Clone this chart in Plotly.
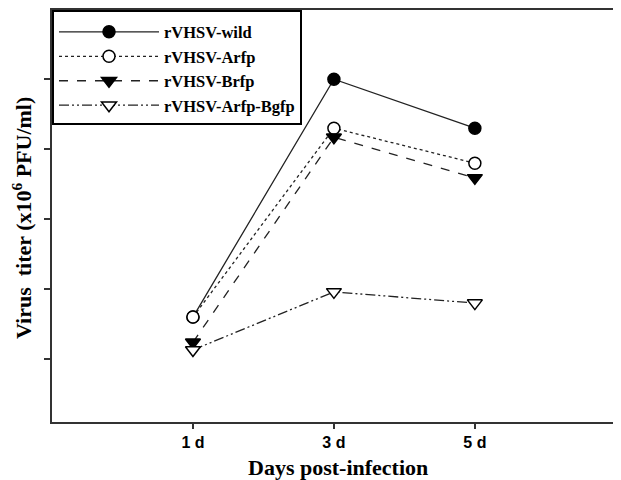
import plotly.graph_objects as go

days = [1, 3, 5]
day_labels = ["1 d", "3 d", "5 d"]
wild = [1.6, 5.0, 4.3]
arfp = [1.6, 4.3, 3.8]
brfp = [1.24, 4.17, 3.59]
arfp_bgfp = [1.13, 1.96, 1.8]
y_ticks = [1, 2, 3, 4, 5]

series = [
    ("rVHSV-wild", wild, "solid", "circle", "black"),
    ("rVHSV-Arfp", arfp, "dot", "circle", "white"),
    ("rVHSV-Brfp", brfp, "dash", "triangle-down", "black"),
    ("rVHSV-Arfp-Bgfp", arfp_bgfp, "10px,3px,2px,3px,2px,3px", "triangle-down", "white"),
]

fig = go.Figure()
for name, vals, dash, sym, fill in series:
    fig.add_trace(go.Scatter(
        x=days, y=vals, name=name, mode="lines+markers",
        line=dict(color="#222", width=1.3, dash=dash),
        marker=dict(symbol=sym, size=12 if sym == "circle" else 13, color=fill,
                    line=dict(color="black", width=1.5)),
    ))

# the page body has an 8px margin; compensate so the plot lands where the reference has it
OFF = 8
W, H = 621 - 2 * OFF, 480 - OFF
ml, mt, mb, mr = 52 - OFF, 10 - OFF, 58, 0
PH = H - mt - mb
PW = W - ml - mr
fig.update_layout(
    width=W, height=H,
    margin=dict(l=ml, r=mr, t=mt, b=mb),
    paper_bgcolor="white", plot_bgcolor="white",
    showlegend=True,
    legend=dict(
        x=0, y=1, xanchor="left", yanchor="top",
        bordercolor="black", borderwidth=2, bgcolor="white",
        font=dict(family="Liberation Serif", size=16.5, color="black", weight="bold"),
        title=dict(text=" ", font=dict(size=2)),
        tracegroupgap=0, itemwidth=100,
    ),
    xaxis=dict(
        range=[-1, 6.96], tickvals=days, ticktext=day_labels,
        showline=True, linecolor="#333", linewidth=2, mirror=True,
        ticks="outside", ticklen=5, tickwidth=1.5, tickcolor="#333",
        showgrid=False, zeroline=False,
        tickfont=dict(family="Liberation Sans", size=16, color="black", weight="bold"),
    ),
    yaxis=dict(
        range=[0.1, 5.99], tickvals=y_ticks, showticklabels=False,
        showline=True, linecolor="#333", linewidth=2,
        ticks="outside", ticklen=6, tickwidth=1.5, tickcolor="#333",
        showgrid=False, zeroline=False,
    ),
    annotations=[
        dict(text="Virus  titer (x10<sup>6</sup> PFU/ml)", xref="paper", yref="paper",
             x=(22 - 52) / PW, y=(422 - 218) / PH, xanchor="center", yanchor="middle",
             textangle=-90, showarrow=False,
             font=dict(family="Liberation Serif", size=22, color="black", weight="bold")),
        dict(text="Days post-infection", xref="paper", yref="paper",
             x=(338 - 52) / PW, y=-(467 - 422) / PH, xanchor="center", yanchor="middle",
             showarrow=False,
             font=dict(family="Liberation Serif", size=22, color="black", weight="bold")),
    ],
)
fig.write_html("out.html")
